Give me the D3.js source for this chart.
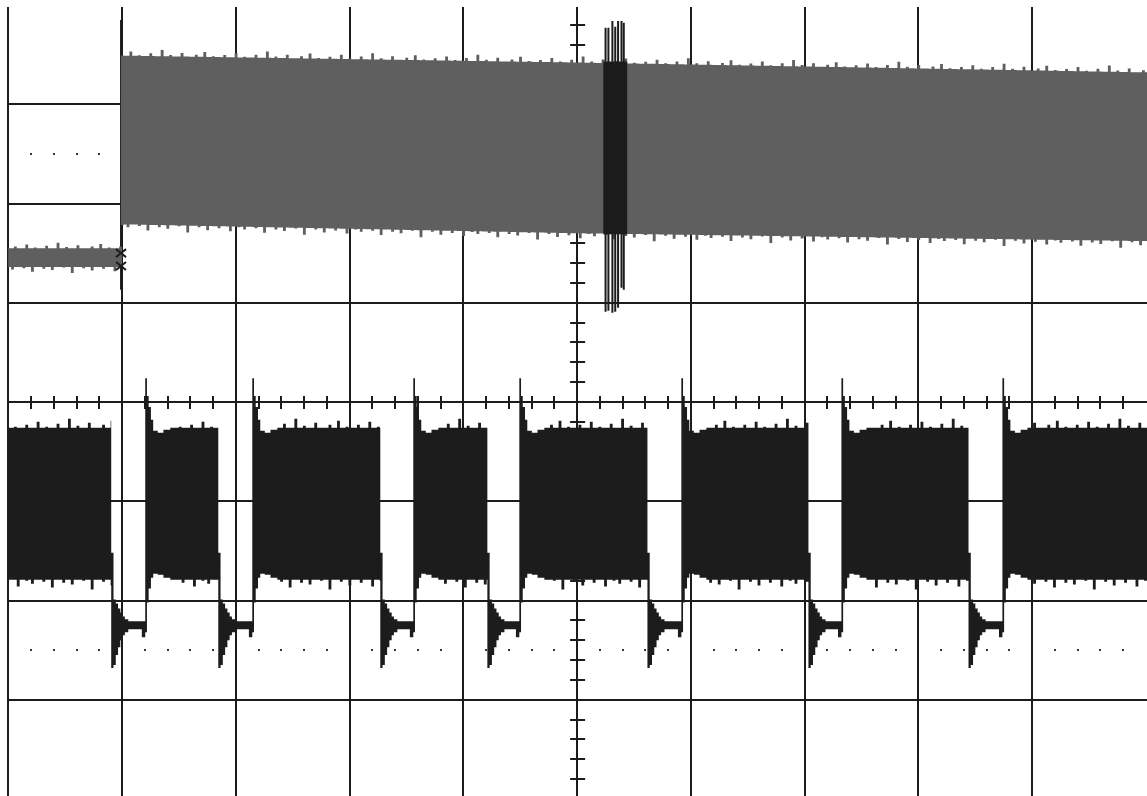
<!DOCTYPE html>
<html>
<head>
<meta charset="utf-8">
<script src="https://cdn.jsdelivr.net/npm/d3@7"></script>
<style>
  html, body { margin: 0; padding: 0; background: #fff; }
  svg { display: block; }
</style>
</head>
<body>
<div id="chart"></div>
<script>
// ---- data (time in divisions, volts in divisions from centre) ----

// channel 1 (grey): flat band before the trigger, then the tall band that sags slowly
var ch1PreTime = [0, 1.0];
var ch1PreHi = [1.55, 1.55];
var ch1PreLo = [1.36, 1.36];
var ch1Time = [0.99, 5.0, 10.05];
var ch1Hi = [3.49, 3.42, 3.32];
var ch1Lo = [1.79, 1.70, 1.62];

// dark burst in the middle of channel 1
var burstSpan = [5.23, 5.44];
var burstBand = [3.43, 1.69];
var burstTime = [5.25, 5.275, 5.31, 5.335, 5.36, 5.39, 5.41];
var burstHi = [3.77, 3.77, 3.84, 3.78, 3.84, 3.84, 3.82];
var burstLo = [0.91, 0.92, 0.90, 0.91, 0.95, 1.15, 1.13];

// trigger marker
var trigTime = 1.0;
var trigRange = [3.85, 1.13];
var trigCross = [1.50, 1.37];

// channel 2 (black): band broken by 7 gaps
var gapStart = [0.905, 1.846, 3.270, 4.211, 5.618, 7.033, 8.440];
var gapEnd = [1.204, 2.145, 3.560, 4.492, 5.916, 7.323, 8.738];
var ch2BandHi = -0.26;
var ch2BandLo = -1.79;

// ringing after the falling edge (dt from gap start)
var fallDt = [0.00, 0.02, 0.04, 0.06, 0.08, 0.10, 0.12, 0.15];
var fallHi = [-1.52, -1.99, -2.03, -2.08, -2.12, -2.16, -2.19, -2.21];
var fallLo = [-2.68, -2.65, -2.55, -2.47, -2.40, -2.35, -2.32, -2.29];

// overshoot at the rising edge (dt from gap end)
var riseDt = [-0.03, 0.00, 0.015, 0.03, 0.05, 0.07, 0.11, 0.16, 0.22];
var riseHi = [-2.21, 0.24, 0.06, -0.05, -0.18, -0.29, -0.31, -0.28, -0.26];
var riseLo = [-2.37, -2.32, -2.02, -1.88, -1.77, -1.73, -1.74, -1.77, -1.79];

// edge hair of the noisy bands
var hiHair = [0, 0, 0.03, 0, 0, 0, 0.06, 0, 0, 0.01, 0, 0, 0, 0.04, 0, 0, 0, 0.09, 0,
  0, 0.02, 0, 0, 0, 0.05, 0, 0, 0, 0, 0.03, 0, 0, 0.07, 0, 0, 0.01, 0];
var loHair = [0, 0.04, 0, 0, 0, 0.02, 0, 0, 0.08, 0, 0, 0, 0.03, 0, 0, 0.05, 0, 0, 0, 0.01,
  0, 0, 0.1, 0, 0, 0, 0.02, 0, 0, 0.06, 0, 0, 0, 0.03, 0, 0, 0, 0.07, 0, 0, 0.01];

// graticule
var majorX = d3.range(0, 10);
var majorY = [-3, -2, -1, 0, 1, 2, 3];
var dotRows = [2.5, -2.5];

// ---- drawing ----
var width = 1147, height = 796;
var x = d3.scaleLinear().domain([0, 10]).range([8.25, 1146]);
var y = d3.scaleLinear().domain([-4, 4]).range([799, 5]);

var ink = '#1c1c1c', grey = '#5f5f5f';
var step = 0.025;

var svg = d3.select('#chart').append('svg')
  .attr('width', width)
  .attr('height', height);

var grid = svg.append('g').attr('stroke', ink).attr('stroke-width', 2);

grid.selectAll('line.v').data(majorX).enter().append('line')
  .attr('x1', function(d) { return Math.round(x(d)); })
  .attr('x2', function(d) { return Math.round(x(d)); })
  .attr('y1', y(4) + 2)
  .attr('y2', height);

grid.selectAll('line.h').data(majorY).enter().append('line')
  .attr('x1', x(0))
  .attr('x2', width)
  .attr('y1', function(d) { return Math.round(y(d)); })
  .attr('y2', function(d) { return Math.round(y(d)); });

// minor ticks on the centre cross
var minor = [];
d3.range(0, 10).forEach(function(k) { [0.2, 0.4, 0.6, 0.8].forEach(function(f) { minor.push(k + f); }); });
var minorV = [];
d3.range(-4, 4).forEach(function(k) { [0.2, 0.4, 0.6, 0.8].forEach(function(f) { minorV.push(k + f); }); });

grid.selectAll('line.tx').data(minor).enter().append('line')
  .attr('x1', function(d) { return Math.round(x(d)); })
  .attr('x2', function(d) { return Math.round(x(d)); })
  .attr('y1', y(0) - 6)
  .attr('y2', y(0) + 7);

grid.selectAll('line.ty').data(minorV).enter().append('line')
  .attr('x1', x(5) - 7)
  .attr('x2', x(5) + 8)
  .attr('y1', function(d) { return Math.round(y(d)); })
  .attr('y2', function(d) { return Math.round(y(d)); });

// dotted rows
var dots = [];
dotRows.forEach(function(v) { minor.forEach(function(t) { dots.push([t, v]); }); });
svg.append('g').selectAll('rect').data(dots).enter().append('rect')
  .attr('x', function(d) { return Math.round(x(d[0])) - 1; })
  .attr('y', function(d) { return Math.round(y(d[1])) - 1; })
  .attr('width', 2).attr('height', 2)
  .attr('fill', '#333');

var area = d3.area()
  .x(function(d) { return x(d.t); })
  .y0(function(d) { return y(d.lo); })
  .y1(function(d) { return y(d.hi); })
  .curve(d3.curveStepAfter);

// trigger marker (behind channel 1)
svg.append('line')
  .attr('x1', x(trigTime) - 1).attr('x2', x(trigTime) - 1)
  .attr('y1', y(trigRange[0])).attr('y2', y(trigRange[1]))
  .attr('stroke', ink).attr('stroke-width', 2);

// channel 1
var hairIdx = 0;
function band(times, his, los, gain) {
  var hiS = d3.scaleLinear().domain(times).range(his);
  var loS = d3.scaleLinear().domain(times).range(los);
  var pts = [];
  for (var t = times[0]; t <= times[times.length - 1]; t += step) {
    pts.push({ t: t, hi: hiS(t) + gain * hiHair[hairIdx % hiHair.length], lo: loS(t) - gain * loHair[hairIdx % loHair.length] });
    hairIdx++;
  }
  pts.push({ t: times[times.length - 1], hi: hiS(times[times.length - 1]), lo: loS(times[times.length - 1]) });
  return pts;
}

svg.append('path').datum(band(ch1PreTime, ch1PreHi, ch1PreLo, 0.6))
  .attr('d', area).attr('fill', grey);
svg.append('path').datum(band(ch1Time, ch1Hi, ch1Lo, 0.7))
  .attr('d', area).attr('fill', grey);

// burst
svg.append('rect')
  .attr('x', x(burstSpan[0])).attr('width', x(burstSpan[1]) - x(burstSpan[0]))
  .attr('y', y(burstBand[0])).attr('height', y(burstBand[1]) - y(burstBand[0]))
  .attr('fill', ink);
svg.append('g').selectAll('line').data(burstTime).enter().append('line')
  .attr('x1', function(d) { return x(d); })
  .attr('x2', function(d) { return x(d); })
  .attr('y1', function(d, i) { return y(burstHi[i]); })
  .attr('y2', function(d, i) { return y(burstLo[i]); })
  .attr('stroke', ink).attr('stroke-width', 2);

// trigger crosses
svg.append('g').selectAll('path').data(trigCross).enter().append('path')
  .attr('d', function(d) {
    var cx = x(trigTime) - 1, cy = y(d);
    return 'M' + (cx - 5) + ',' + (cy - 4) + 'L' + (cx + 5) + ',' + (cy + 4) +
      'M' + (cx + 5) + ',' + (cy - 4) + 'L' + (cx - 5) + ',' + (cy + 4);
  })
  .attr('stroke', ink).attr('stroke-width', 2).attr('fill', 'none');

// channel 2
function buildCh2() {
  var pts = [];
  var start = 0;
  for (var k = 0; k <= gapStart.length; k++) {
    var end = k < gapStart.length ? gapStart[k] : 10.05;
    var t = start;
    if (k > 0) {
      riseDt.forEach(function(dt, i) {
        if (dt >= 0) pts.push({ t: start + dt, hi: riseHi[i], lo: riseLo[i] });
      });
      t = start + riseDt[riseDt.length - 1] + step;
    }
    for (; t < end; t += step) {
      pts.push({ t: t, hi: ch2BandHi + hiHair[hairIdx % hiHair.length], lo: ch2BandLo - loHair[hairIdx % loHair.length] });
      hairIdx++;
    }
    if (k < gapStart.length) {
      fallDt.forEach(function(dt, i) { pts.push({ t: end + dt, hi: fallHi[i], lo: fallLo[i] }); });
      riseDt.forEach(function(dt, i) {
        if (dt < 0) pts.push({ t: gapEnd[k] + dt, hi: riseHi[i], lo: riseLo[i] });
      });
      start = gapEnd[k];
    } else {
      pts.push({ t: end, hi: ch2BandHi, lo: ch2BandLo });
    }
  }
  return pts;
}

svg.append('path').datum(buildCh2())
  .attr('d', area).attr('fill', ink);
</script>
</body>
</html>
